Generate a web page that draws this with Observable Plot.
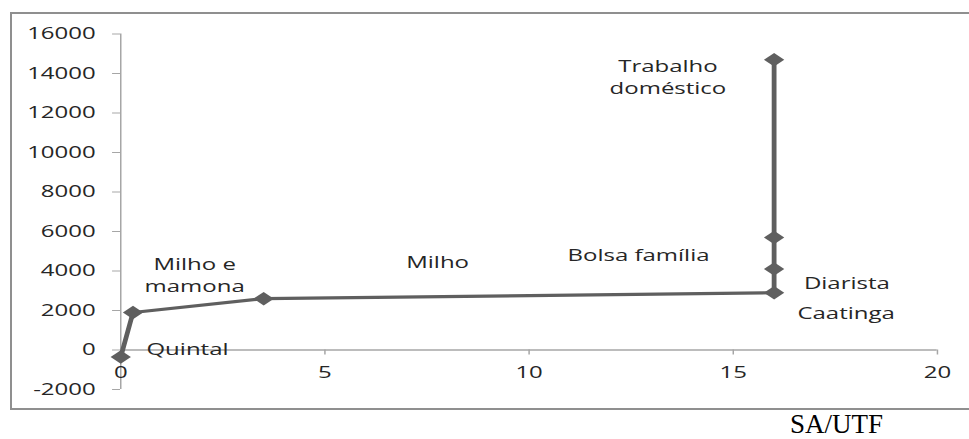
<!DOCTYPE html>
<html><head><meta charset="utf-8">
<script src="https://cdn.jsdelivr.net/npm/d3@7"></script>
<script src="https://cdn.jsdelivr.net/npm/@observablehq/plot@0.6"></script>
<style>
html,body{margin:0;padding:0;background:#fff;overflow:hidden;}
#wrap{position:relative;width:969px;height:439px;}
#frame{position:absolute;left:10px;top:12px;width:990px;height:398px;box-sizing:border-box;border:2px solid #8f8f8f;border-right:none;}
#chart{position:absolute;left:0;top:0;}
#caption{position:absolute;left:790px;top:413px;font-family:"Liberation Serif","Times New Roman",serif;font-size:27px;line-height:22px;color:#000;white-space:nowrap;}
</style>
</head><body>
<div id="wrap"><div id="frame"></div><div id="chart"></div><div id="caption">SA/UTF</div></div>
<script>
// Data series (x = SA/UTF, y = value)
const pointX = [0, 0.3, 3.5, 16, 16, 16, 16];
const pointY = [-350, 1900, 2600, 2900, 4100, 5700, 14700];

// Annotation labels and their anchor positions in data units
const labelText = ["Quintal", "Milho e\nmamona", "Milho", "Bolsa família", "Trabalho\ndoméstico", "Diarista", "Caatinga"];
const labelX = [0.63, 1.81, 7.76, 12.68, 13.4, 16.73, 16.57];
const labelY = [100, 3870, 4520, 4860, 13860, 3460, 1920];
const labelAnchor = ["start", "middle", "middle", "middle", "middle", "start", "start"];

// Tick values
const xTicks = [0, 5, 10, 15, 20];
const yTicks = [-2000, 0, 2000, 4000, 6000, 8000, 10000, 12000, 14000, 16000];

const points = pointX.map((x, i) => ({x, y: pointY[i]}));
const labels = labelText.map((t, i) => ({t, x: labelX[i], y: labelY[i], a: labelAnchor[i]}));

const S = 1.5; // horizontal stretch of the original picture
const W = 969 / S, H = 439;
const axisColor = "#a6a6a6", lineColor = "#5f5f5f", textColor = "#262626";
const font = "'Open Sans', sans-serif";

const labelMark = (anchor) => Plot.text(labels.filter(d => d.a === anchor), {
  x: "x", y: "y", text: "t", textAnchor: anchor, fill: textColor, fontSize: 16, lineHeight: 1.37, lineAnchor: "middle"
});

const chart = Plot.plot({
  width: W, height: H,
  marginLeft: 120 / S, marginRight: (969 - 936.7) / S,
  marginTop: 33.5, marginBottom: H - 389,
  x: {domain: [0, 20], axis: null},
  y: {domain: [-2000, 16000], axis: null},
  style: {fontFamily: font, fontSize: "16px", color: textColor, background: "transparent"},
  marks: [
    Plot.ruleX([0], {stroke: axisColor, strokeWidth: 1}),
    Plot.ruleY([0], {stroke: axisColor, strokeWidth: 1.3}),
    Plot.axisY(yTicks, {anchor: "left", tickSize: 5.3, tickPadding: 11.4, stroke: axisColor, fill: textColor, fontSize: 16, label: null, tickFormat: d => String(d)}),
    Plot.ruleX(xTicks, {x: d => d, y1: 0, y2: 0, insetTop: 0, insetBottom: -5, stroke: axisColor, strokeWidth: 1}),
    Plot.text(xTicks, {x: d => d, y: 0, dy: 22.5, text: d => String(d), fill: textColor, fontSize: 16, lineAnchor: "middle"}),
    Plot.line(points, {x: "x", y: "y", stroke: lineColor, strokeWidth: 3.2, strokeLinejoin: "round"}),
    Plot.dot(points, {x: "x", y: "y", symbol: "diamond2", r: 6.1, fill: lineColor, stroke: "none"}),
    labelMark("start"),
    labelMark("middle")
  ]
});
chart.setAttribute("viewBox", `0 0 ${W} ${H}`);
chart.setAttribute("width", 969);
chart.setAttribute("height", H);
chart.setAttribute("preserveAspectRatio", "none");
chart.style.maxWidth = "none";
document.getElementById("chart").appendChild(chart);
</script>
</body></html>
